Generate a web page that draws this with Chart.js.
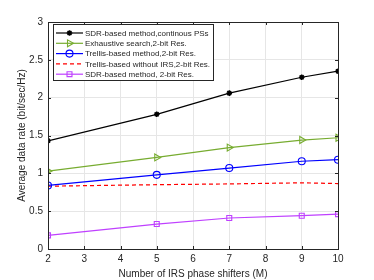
<!DOCTYPE html>
<html><head><meta charset="utf-8">
<script src="https://cdn.jsdelivr.net/npm/chart.js@4/dist/chart.umd.min.js"></script>
<style>html,body{margin:0;padding:0;background:#fff}#w{width:374px;height:280px}</style>
</head><body><div id="w"><canvas id="c" width="374" height="280"></canvas></div>
<script>
const categories = [2, 5, 7, 9, 10];
const sdrContinuous = [1.43, 1.78, 2.06, 2.27, 2.35];
const exhaustive2bit = [1.03, 1.21, 1.34, 1.44, 1.47];
const trellis2bit = [0.84, 0.98, 1.07, 1.16, 1.18];
const trellisNoIRS = [0.83, 0.85, 0.86, 0.875, 0.865];
const sdr2bit = [0.18, 0.33, 0.41, 0.44, 0.46];
const seriesNames = ['SDR-based method,continous PSs','Exhaustive search,2-bit Res.','Trellis-based method,2-bit Res.','Trellis-based without IRS,2-bit Res.','SDR-based method, 2-bit Res.'];
const xTicks = [2,3,4,5,6,7,8,9,10];
const yTicks = [0,0.5,1,1.5,2,2.5,3];

const FONT = "'Liberation Sans', Arial, sans-serif";
const mk = (arr) => categories.map((x,i)=>({x, y: arr[i]}));
const styles = [
  {color:'#000000', ps:'star', r:2.8, fill:'#000000', dash:[], bw:1.5},
  {color:'#77AC30', ps:'triangle', r:4, fill:'rgba(0,0,0,0)', dash:[], rot:90, bw:1.1},
  {color:'#0000FF', ps:'circle', r:3.5, fill:'rgba(0,0,0,0)', dash:[], bw:1.1},
  {color:'#FF0000', ps:false, r:0, fill:'rgba(0,0,0,0)', dash:[4,3], bw:1.1},
  {color:'#BF40FF', ps:'rect', r:3.5, fill:'rgba(0,0,0,0)', dash:[], bw:1.1}
];
const dataArr = [sdrContinuous, exhaustive2bit, trellis2bit, trellisNoIRS, sdr2bit];
const datasets = dataArr.map((d,i)=>({
  label: seriesNames[i], data: mk(d),
  borderColor: styles[i].color, backgroundColor: styles[i].fill,
  borderWidth: 1.2, borderDash: styles[i].dash,
  pointStyle: styles[i].ps || 'circle', pointRadius: styles[i].r,
  pointBorderColor: styles[i].color, pointBackgroundColor: styles[i].fill,
  pointBorderWidth: styles[i].bw, pointRotation: styles[i].rot || 0,
  tension: 0, fill: false
}));

const boxPlugin = {
  id:'box',
  afterDraw(chart){
    const {ctx, chartArea:a, scales:{x,y}} = chart;
    ctx.save();
    ctx.strokeStyle='#262626'; ctx.lineWidth=1;
    ctx.strokeRect(Math.round(a.left)+0.5, Math.round(a.top)+0.5, Math.round(a.right-a.left), Math.round(a.bottom-a.top));
    ctx.beginPath();
    xTicks.forEach(t=>{const px=Math.round(x.getPixelForValue(t))+0.5; ctx.moveTo(px,a.bottom); ctx.lineTo(px,a.bottom-3); ctx.moveTo(px,a.top); ctx.lineTo(px,a.top+3);});
    yTicks.forEach(t=>{const py=Math.round(y.getPixelForValue(t))+0.5; ctx.moveTo(a.left,py); ctx.lineTo(a.left+3,py); ctx.moveTo(a.right,py); ctx.lineTo(a.right-3,py);});
    ctx.stroke();
    // legend
    const lx=53.5, ly=24.5, lw=160, lh=56;
    ctx.fillStyle='#fff'; ctx.fillRect(lx,ly,lw,lh);
    ctx.strokeStyle='#262626'; ctx.strokeRect(lx,ly,lw,lh);
    ctx.font = '8px '+FONT; ctx.textBaseline='middle'; ctx.textAlign='left';
    seriesNames.forEach((n,i)=>{
      const cy = 33 + i*10.3;
      const s = styles[i];
      ctx.strokeStyle=s.color; ctx.lineWidth=1.2; ctx.setLineDash(s.dash);
      ctx.beginPath(); ctx.moveTo(56,cy); ctx.lineTo(83,cy); ctx.stroke();
      ctx.setLineDash([]);
      if(s.ps){
        ctx.save();
        ctx.fillStyle=s.fill; ctx.strokeStyle=s.color; ctx.lineWidth=s.bw;
        Chart.helpers.drawPoint(ctx,{pointStyle:s.ps, radius:s.r, borderWidth:s.bw, rotation:s.rot||0}, 69.5, cy);
        ctx.restore();
      }
      ctx.fillStyle='#262626';
      ctx.fillText(n, 85, cy+0.5);
    });
    ctx.restore();
  }
};

new Chart(document.getElementById('c'), {
  type:'line',
  data:{datasets},
  options:{
    responsive:false, animation:false, devicePixelRatio:1,
    layout:{padding:{top:22,right:36,left:16,bottom:0}},
    plugins:{legend:{display:false}, tooltip:{enabled:false}},
    scales:{
      x:{type:'linear', min:2, max:10,
        afterBuildTicks(s){s.ticks = xTicks.map(v=>({value:v}));},
        afterFit(s){s.height=31;},
        grid:{color:'#e6e6e6', drawTicks:false, lineWidth:1},
        border:{color:'#262626'},
        ticks:{color:'#262626', font:{family:FONT,size:10}, padding:4, maxRotation:0, autoSkip:false, callback:v=>String(v)},
        title:{display:true, text:'Number of IRS phase shifters (M)', color:'#262626', font:{family:FONT,size:10}, padding:{top:1,bottom:0}}
      },
      y:{type:'linear', min:0, max:3,
        afterBuildTicks(s){s.ticks = yTicks.map(v=>({value:v}));},
        afterFit(s){s.width=32;},
        grid:{color:'#e6e6e6', drawTicks:false, lineWidth:1},
        border:{color:'#262626'},
        ticks:{color:'#262626', font:{family:FONT,size:10}, padding:5, autoSkip:false, callback:v=>String(v)},
        title:{display:true, text:'Average data rate (bit/sec/Hz)', color:'#262626', font:{family:FONT,size:10}, padding:{top:0,bottom:2}}
      }
    }
  },
  plugins:[boxPlugin]
});
</script></body></html>
